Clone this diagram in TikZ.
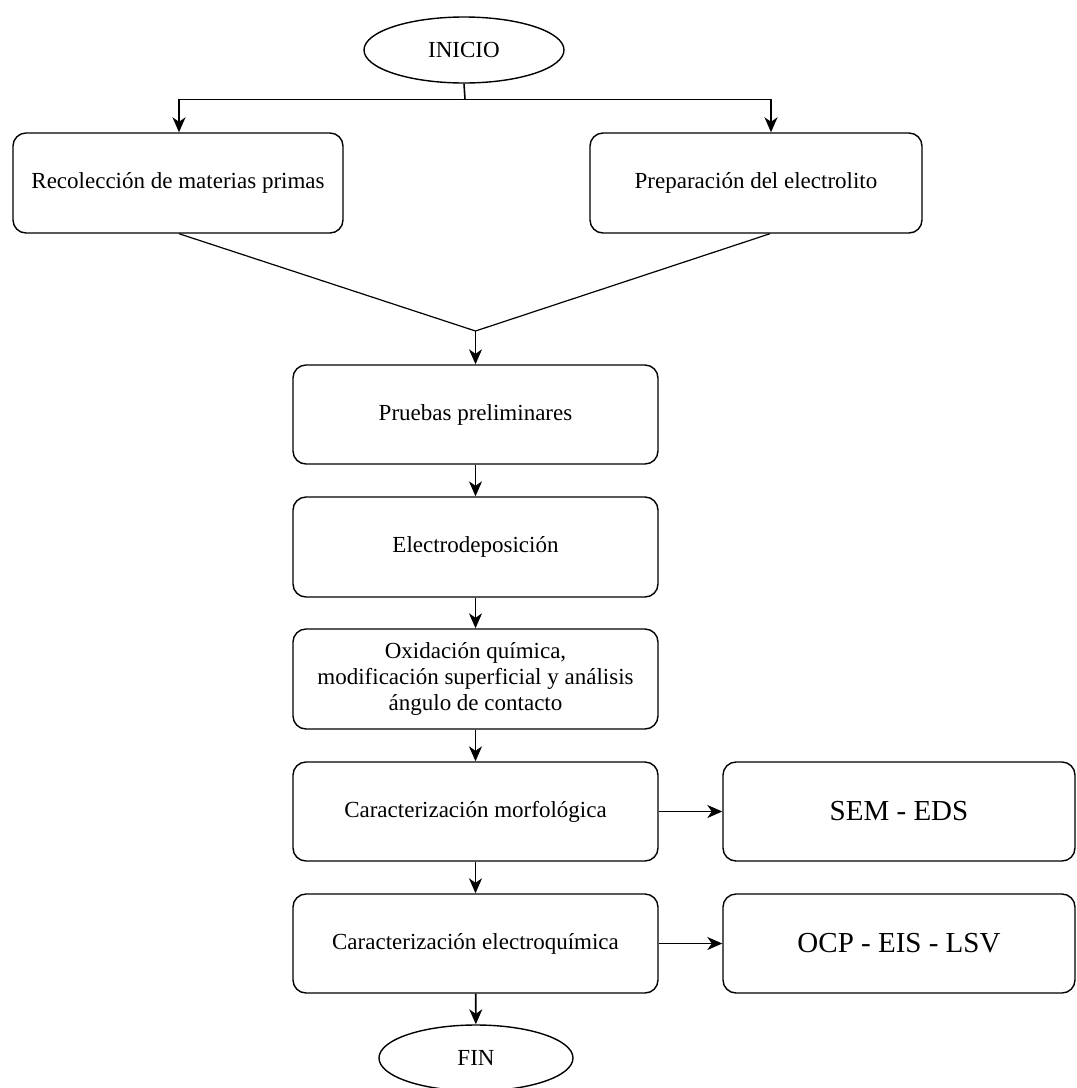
\documentclass[tikz,border=0pt]{standalone}
\usepackage{fontspec}
\setmainfont{Liberation Serif}
\usetikzlibrary{shapes.geometric,arrows.meta}
\begin{document}
\begin{tikzpicture}[x=1pt,y=-1pt,
  box/.style={draw,line width=1.4pt,rounded corners=13pt,inner sep=0pt,align=center,font=\fontsize{23}{26}\selectfont},
  mainbox/.style={box,minimum width=365pt,minimum height=100pt},
  sidebox/.style={box,minimum width=352pt,minimum height=99pt,font=\fontsize{29}{32}\selectfont},
  term/.style={draw,ellipse,line width=1.4pt,inner sep=0pt,minimum width=200pt,minimum height=66pt,font=\fontsize{23}{26}\selectfont},
  conn/.style={line width=1.6pt},
  arr/.style={conn,-{Stealth[length=15pt,width=13pt,inset=4.5pt]}}]
\useasboundingbox (0,0) rectangle (1077,1088);
\node[term] (ini) at (464,50) {INICIO};
\node[box,minimum width=330pt,minimum height=100pt] (rec) at (178,183) {Recolección de materias primas};
\node[box,minimum width=332pt,minimum height=100pt] (prep) at (756,183) {Preparación del electrolito};
\node[mainbox,minimum height=99pt] (pru) at (475.5,414.5) {Pruebas preliminares};
\node[mainbox] (ele) at (475.5,547) {Electrodeposición};
\node[mainbox] (oxi) at (475.5,679) {Oxidación química,\\modificación superficial y análisis\\ángulo de contacto};
\node[mainbox,minimum height=99pt] (mor) at (475.5,811.5) {Caracterización morfológica};
\node[mainbox,minimum height=99pt] (elq) at (475.5,943.5) {Caracterización electroquímica};
\node[sidebox] (sem) at (899,811.5) {SEM - EDS};
\node[sidebox] (ocp) at (899,943.5) {OCP - EIS - LSV};
\node[term,minimum width=194pt] (fin) at (476,1058) {FIN};
\coordinate (j) at (465,99.5);
\coordinate (jl) at (179,99.5);
\coordinate (jr) at (771,99.5);
\coordinate (m) at (475.5,331);
\draw[conn] (ini.south) -- (j);
\draw[arr] (j) -- (jl) -- (jl |- rec.north);
\draw[arr] (j) -- (jr) -- (jr |- prep.north);
\draw[conn,line width=1.2pt] (jl |- rec.south) -- (m);
\draw[conn,line width=1.2pt] ([xshift=14pt]prep.south) -- (m);
\draw[arr] (m) -- (pru.north);
\draw[arr] (pru) -- (ele);
\draw[arr] (ele) -- (oxi);
\draw[arr] (oxi) -- (mor);
\draw[arr] (mor) -- (elq);
\draw[arr] (elq) -- (fin);
\draw[arr] (mor) -- (sem);
\draw[arr] (elq) -- (ocp);
\end{tikzpicture}
\end{document}
